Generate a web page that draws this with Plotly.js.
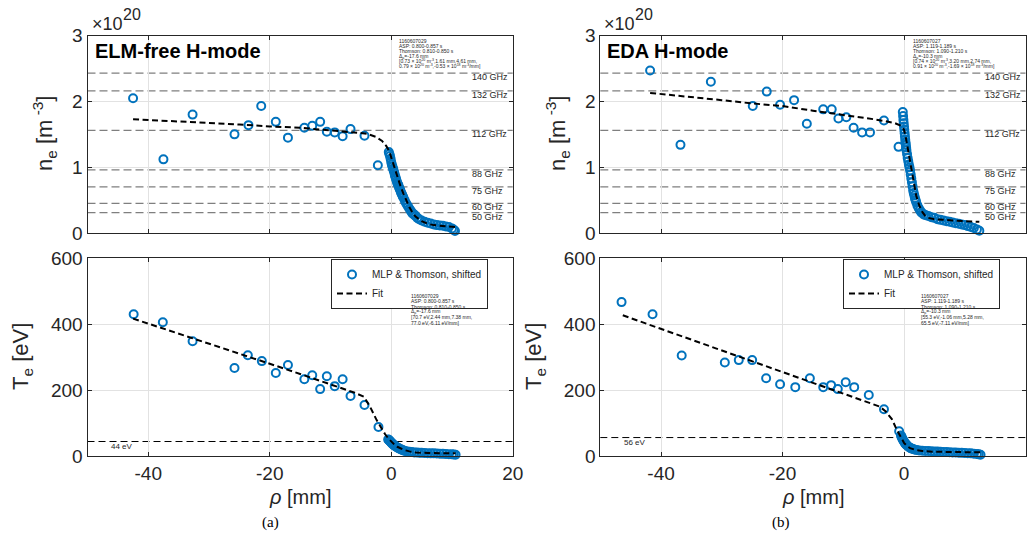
<!DOCTYPE html>
<html>
<head>
<meta charset="utf-8">
<script src="https://cdn.plot.ly/plotly-3.0.1.min.js"></script>
<style>
html,body{margin:0;padding:0;background:#fff;}
#chart{width:1036px;height:544px;}
</style>
</head>
<body>
<div id="chart"></div>
<script>
// ---------------- DATA ----------------
// (a) ELM-free H-mode, density (units of 1e20 m^-3)
const aNeThomsonX = [-42.5,-37.5,-32.7,-25.8,-23.5,-21.4,-19.0,-17.0,-14.3,-13.0,-11.7,-10.6,-9.3,-8.0,-6.7,-4.4,-2.2];
const aNeThomsonY = [2.05,1.12,1.80,1.50,1.64,1.93,1.69,1.45,1.60,1.63,1.69,1.54,1.53,1.47,1.58,1.48,1.03];
const aNeMlpX = [-0.4,-0.3,-0.2,-0.1,0,0.1,0.2,0.3,0.4,0.5,0.6,0.7,0.8,0.9,1.0,1.1,1.2,1.3,1.4,1.5,1.6,1.7,1.8,1.9,2.0,2.2,2.4,2.6,2.8,3.0,3.2,3.4,3.6,3.8,4.0,4.3,4.6,5.0,5.5,6.0,6.5,7.0,7.5,8.0,8.5,9.0,9.5,10.0,10.3,10.5];
const aNeMlpY = [1.23,1.20,1.17,1.13,1.08,1.04,1.01,0.98,0.95,0.92,0.88,0.85,0.82,0.79,0.76,0.74,0.72,0.69,0.67,0.65,0.62,0.60,0.58,0.56,0.54,0.50,0.46,0.43,0.40,0.37,0.34,0.31,0.29,0.28,0.26,0.23,0.21,0.19,0.17,0.155,0.145,0.13,0.12,0.115,0.11,0.10,0.09,0.07,0.05,0.03];
const aNeFitX = [-42.5,-35,-30,-25,-20,-15,-10,-6,-4,-2.5,-1.5,-0.8,-0.3,0,0.5,1,1.5,2,2.5,3,3.5,4,5,6,7,8,9,10.5];
const aNeFitY = [1.73,1.70,1.67,1.65,1.62,1.60,1.56,1.53,1.51,1.46,1.40,1.32,1.24,1.15,1.00,0.85,0.72,0.60,0.49,0.39,0.31,0.25,0.18,0.14,0.12,0.11,0.10,0.09];

// (a) temperature (eV)
const aTeThomsonX = [-42.4,-37.6,-32.7,-25.8,-23.6,-21.3,-19.0,-17.0,-14.3,-13.0,-11.7,-10.6,-9.3,-8.0,-6.7,-4.4,-2.1];
const aTeThomsonY = [430,406,348,267,306,288,252,276,233,245,203,242,212,233,182,155,88];
const aTeMlpX = [-0.5,-0.4,-0.3,-0.2,-0.1,0,0.1,0.2,0.3,0.4,0.5,0.6,0.8,1.0,1.2,1.4,1.6,1.8,2.0,2.3,2.6,3.0,3.4,3.8,4.2,4.6,5.0,5.5,6.0,6.5,7.0,7.5,8.0,8.5,9.0,9.5,10.0,10.3,10.6];
const aTeMlpY = [50,49,47,45,43,41,39,37,35,34,32,31,28,26,24,22,20,19,17,15,14,13,12,11,10.5,10,9.5,9,8.5,8,8,7.5,7,6.5,6,5.5,5,4.5,4];
const aTeFitX = [-42.5,-35,-30,-25,-20,-15,-10,-6,-4.5,-3.5,-2.4,-1.5,-1,-0.5,0,0.5,1,1.5,2,3,4,6,8,10.6];
const aTeFitY = [417,372,341,310,280,249,218,192,180,150,109,80,66,54,44,35,28,23,19,14,11,9,8.5,8];
const aTeLine = 44;

// (b) EDA H-mode, density
const bNeThomsonX = [-41.8,-36.8,-31.8,-24.9,-22.6,-20.4,-18.1,-16.0,-13.3,-11.9,-10.8,-9.5,-8.3,-6.9,-5.6,-3.3,-0.9];
const bNeThomsonY = [2.47,1.34,2.30,1.93,2.15,1.95,2.02,1.66,1.88,1.88,1.74,1.76,1.60,1.53,1.53,1.71,1.31];
const bNeMlpX = [-0.2,-0.15,-0.1,-0.05,0,0.05,0.1,0.15,0.2,0.25,0.3,0.35,0.4,0.5,0.6,0.7,0.8,0.9,1.0,1.1,1.2,1.3,1.4,1.5,1.6,1.7,1.8,1.9,2.0,2.2,2.4,2.6,2.8,3.0,3.3,3.6,4.0,4.5,5.0,5.5,6.0,6.5,7.0,7.5,8.0,8.5,9.0,9.5,10.0,10.5,11.0,11.5,12.0,12.4];
const bNeMlpY = [1.84,1.78,1.72,1.67,1.62,1.57,1.52,1.47,1.42,1.38,1.34,1.30,1.26,1.20,1.14,1.09,1.04,1.00,0.95,0.89,0.83,0.77,0.71,0.65,0.61,0.57,0.53,0.50,0.47,0.42,0.38,0.35,0.32,0.30,0.28,0.27,0.26,0.24,0.23,0.21,0.20,0.19,0.18,0.17,0.16,0.15,0.14,0.13,0.12,0.105,0.09,0.075,0.055,0.035];
const bNeFitX = [-41.8,-35,-30,-25,-20,-15,-10,-5,-3,-1.5,-0.5,0,0.3,0.6,1.0,1.5,2.0,2.5,3.0,3.5,4.0,5,6,8,10,12.4];
const bNeFitY = [2.13,2.07,2.02,1.97,1.93,1.86,1.80,1.73,1.70,1.67,1.63,1.57,1.45,1.30,1.08,0.80,0.57,0.42,0.32,0.26,0.23,0.21,0.20,0.19,0.18,0.17];

// (b) temperature
const bTeThomsonX = [-46.5,-41.4,-36.6,-29.5,-27.2,-25.0,-22.7,-20.4,-17.9,-15.5,-13.3,-12.0,-10.9,-9.6,-8.2,-5.8,-3.3,-0.8];
const bTeThomsonY = [467,430,305,284,291,291,236,218,209,236,209,215,203,224,209,185,142,75];
const bTeMlpX = [-0.5,-0.4,-0.3,-0.2,-0.1,0,0.1,0.2,0.3,0.4,0.5,0.7,0.9,1.1,1.3,1.5,1.8,2.1,2.5,3.0,3.5,4.0,4.5,5.0,5.5,6.0,6.5,7.0,7.5,8.0,8.5,9.0,9.5,10.0,10.5,11.0,11.5,12.0,12.3,12.6];
const bTeMlpY = [62,58,54,50,47,44,41,38,36,34,32,29,26,24,22,21,19,18,17,16,15.5,15,14.5,14,13.5,13,12.5,12,11.5,11,10.5,10,9.5,9,8.5,8,7,6,5,4];
const bTeFitX = [-46.3,-40,-35,-30,-25,-20,-15,-10,-6,-4,-3,-2,-1.2,-0.5,0,0.5,1,2,3,5,8,12.6];
const bTeFitY = [427,386,353,320,288,255,222,189,163,150,135,112,80,55,40,30,24,18,15,13,12,11];
const bTeLine = 56;

// O-mode cutoff densities (1e20 m^-3) and labels
const cutoffDensity = [2.43,2.16,1.56,0.96,0.70,0.45,0.31];
const cutoffLabels = ['140 GHz','132 GHz','112 GHz','88 GHz','75 GHz','60 GHz','50 GHz'];

// tick labels
const xTickVals = [-40,-20,0,20];
const xTickText = ['-40','-20','0','20'];
const neTickVals = [0,1,2,3];
const teTickVals = [0,200,400,600];

const panelTitles = ['ELM-free H-mode','EDA H-mode'];
const subLabels = ['(a)','(b)'];
const infoA_ne = ['1160607029','ASP: 0.800-0.857 s','Thomson: 0.810-0.850 s','Δ<sub>ρ</sub>=-17.6 mm','[0.73 × 10<sup>20</sup> m<sup>-3</sup>,1.61 mm,4.61 mm,','0.79 × 10<sup>20</sup> m<sup>-3</sup>,-0.53 × 10<sup>18</sup> m<sup>-3</sup>/mm]'];
const infoA_te = ['1160607029','ASP: 0.800-0.857 s','Thomson: 0.810-0.850 s','Δ<sub>ρ</sub>=-17.6 mm','[70.7 eV,2.44 mm,7.38 mm,','77.0 eV,-6.11 eV/mm]'];
const infoB_ne = ['1160607027','ASP: 1.119-1.189 s','Thomson: 1.090-1.210 s','Δ<sub>ρ</sub>=-10.3 mm','[0.74 × 10<sup>20</sup> m<sup>-3</sup>,3.20 mm,2.74 mm,','0.91 × 10<sup>20</sup> m<sup>-3</sup>,-1.69 × 10<sup>18</sup> m<sup>-3</sup>/mm]'];
const infoB_te = ['1160607027','ASP: 1.119-1.189 s','Thomson: 1.090-1.210 s','Δ<sub>ρ</sub>=-10.3 mm','[55.3 eV,-1.06 mm,5.28 mm,','65.5 eV,-7.11 eV/mm]'];

// ---------------- STYLE / LAYOUT ----------------
const W = 1036, H = 544;
const PX = x => x / W;
const PY = y => 1 - y / H;
const FONT = 'Liberation Sans';
const TXT = '#262626';
const BLUE = '#0072BD';

const xL = [PX(87.5), PX(512.7)];
const xR = [PX(600.3), PX(1025.5)];
const yT = [PY(233), PY(35.7)];
const yB = [PY(456), PY(258.3)];

function axisBase() {
  return {
    showline: true, linecolor: TXT, linewidth: 1, mirror: 'ticks',
    ticks: 'inside', ticklen: 4, tickcolor: TXT, tickwidth: 1,
    showgrid: true, gridcolor: '#e2e2e2', gridwidth: 1, zeroline: false,
    tickfont: {family: FONT, size: 19, color: TXT}, fixedrange: true
  };
}
function xAxis(domain, anchor, labels) {
  return Object.assign(axisBase(), {
    domain: domain, anchor: anchor, range: [-50, 20],
    tickmode: 'array', tickvals: xTickVals, ticktext: xTickText,
    showticklabels: labels
  });
}
function yAxis(domain, anchor, range, vals) {
  return Object.assign(axisBase(), {
    domain: domain, anchor: anchor, range: range,
    tickmode: 'array', tickvals: vals
  });
}

const markerStyle = {symbol: 'circle-open', size: 8, color: BLUE, line: {width: 2, color: BLUE}};
const fitLine = {color: '#000', width: 2, dash: '6px,3.5px'};

function panelTraces(tx, ty, mx, my, fx, fy, xa, ya, legendName, show) {
  return [
    {x: tx.concat(mx), y: ty.concat(my), xaxis: xa, yaxis: ya, type: 'scatter', mode: 'markers',
     marker: markerStyle, name: 'MLP & Thomson, shifted', showlegend: show, legend: legendName,
     cliponaxis: false, hoverinfo: 'skip'},
    {x: fx, y: fy, xaxis: xa, yaxis: ya, type: 'scatter', mode: 'lines', line: fitLine,
     name: 'Fit', showlegend: show, legend: legendName, hoverinfo: 'skip'}
  ];
}

const data = [].concat(
  panelTraces(aNeThomsonX, aNeThomsonY, aNeMlpX, aNeMlpY, aNeFitX, aNeFitY, 'x', 'y', 'legend', false),
  panelTraces(aTeThomsonX, aTeThomsonY, aTeMlpX, aTeMlpY, aTeFitX, aTeFitY, 'x2', 'y2', 'legend', true),
  panelTraces(bNeThomsonX, bNeThomsonY, bNeMlpX, bNeMlpY, bNeFitX, bNeFitY, 'x3', 'y3', 'legend2', false),
  panelTraces(bTeThomsonX, bTeThomsonY, bTeMlpX, bTeMlpY, bTeFitX, bTeFitY, 'x4', 'y4', 'legend2', true)
);

const shapes = [];
const annotations = [];

// cutoff lines and labels
[['x', 'y'], ['x3', 'y3']].forEach(([xa, ya]) => {
  cutoffDensity.forEach((v, i) => {
    shapes.push({type: 'line', xref: xa + ' domain', yref: ya, x0: 0, x1: 1, y0: v, y1: v,
      layer: 'below', line: {color: '#7f7f7f', width: 1.2, dash: '8px,4px'}});
    annotations.push({xref: xa, yref: ya, x: 13, y: v, xanchor: 'left', yanchor: 'middle', yshift: -4,
      text: cutoffLabels[i], showarrow: false, font: {family: FONT, size: 9, color: TXT}});
  });
});
// Te reference lines
[['x2', 'y2', aTeLine], ['x4', 'y4', bTeLine]].forEach(([xa, ya, v]) => {
  shapes.push({type: 'line', xref: xa + ' domain', yref: ya, x0: 0, x1: 1, y0: v, y1: v,
    layer: 'below', line: {color: '#000', width: 1, dash: '7px,4px'}});
  annotations.push({xref: xa, yref: ya, x: -46.5, y: v, xanchor: 'left', yanchor: 'middle', yshift: -5,
    text: v + ' eV', showarrow: false, font: {family: FONT, size: 8, color: TXT}});
});

// panel titles
annotations.push({xref: 'paper', yref: 'paper', x: PX(93), y: PY(51), xanchor: 'left', yanchor: 'middle',
  text: '<b>' + panelTitles[0] + '</b>', showarrow: false, font: {family: FONT, size: 20, color: '#000'}});
annotations.push({xref: 'paper', yref: 'paper', x: PX(605), y: PY(51), xanchor: 'left', yanchor: 'middle',
  text: '<b>' + panelTitles[1] + '</b>', showarrow: false, font: {family: FONT, size: 20, color: '#000'}});

// exponent labels
[[90, 121], [602, 633]].forEach(([a, b]) => {
  annotations.push({xref: 'paper', yref: 'paper', x: PX(a), y: PY(24), xanchor: 'left', yanchor: 'middle',
    text: '×10', showarrow: false, font: {family: FONT, size: 18, color: TXT}});
  annotations.push({xref: 'paper', yref: 'paper', x: PX(b), y: PY(14), xanchor: 'left', yanchor: 'middle',
    text: '20', showarrow: false, font: {family: FONT, size: 16, color: TXT}});
});

// y-axis titles
[[44, 134, 'n<sub>e</sub> [m<sup> -3</sup>]'], [22, 357, 'T<sub>e</sub> [eV]'],
 [557, 134, 'n<sub>e</sub> [m<sup> -3</sup>]'], [535, 357, 'T<sub>e</sub> [eV]']].forEach(([x, y, t]) => {
  annotations.push({xref: 'paper', yref: 'paper', x: PX(x), y: PY(y), xanchor: 'center', yanchor: 'middle',
    text: t, textangle: -90, showarrow: false, font: {family: FONT, size: 22, color: TXT}});
});
// x-axis titles
[300, 813].forEach(x => {
  annotations.push({xref: 'paper', yref: 'paper', x: PX(x), y: PY(497), xanchor: 'center', yanchor: 'middle',
    text: '<i>ρ</i> [mm]', showarrow: false, font: {family: FONT, size: 20, color: TXT}});
});
// sub-figure labels
[[270, subLabels[0]], [781, subLabels[1]]].forEach(([x, t]) => {
  annotations.push({xref: 'paper', yref: 'paper', x: PX(x), y: PY(522), xanchor: 'center', yanchor: 'middle',
    text: t, showarrow: false, font: {family: 'Liberation Serif', size: 15, color: '#000'}});
});
// info text blocks
[[infoA_ne, 397, 40.8, 5.1], [infoA_te, 409, 295.7, 5.4], [infoB_ne, 911, 40.8, 5.1], [infoB_te, 919, 295.7, 5.4]]
.forEach(([lines, x0, y0, dy]) => {
  lines.forEach((t, i) => {
    annotations.push({xref: 'paper', yref: 'paper', x: PX(x0), y: PY(y0 + i * dy), xanchor: 'left', yanchor: 'middle',
      text: t, showarrow: false, font: {family: FONT, size: 5, color: TXT}});
  });
});

function legendStyle(xRightPx) {
  return {x: PX(xRightPx), y: PY(259), xanchor: 'right', yanchor: 'top', bgcolor: '#fff',
    bordercolor: TXT, borderwidth: 1, font: {family: FONT, size: 10, color: TXT},
    tracegroupgap: 0, itemwidth: 30};
}

const layout = {
  width: W, height: H, margin: {l: 0, r: 0, t: 0, b: 0},
  paper_bgcolor: '#fff', plot_bgcolor: '#fff',
  font: {family: FONT, color: TXT},
  xaxis: xAxis(xL, 'y', false),
  yaxis: yAxis(yT, 'x', [0, 3], neTickVals),
  xaxis2: xAxis(xL, 'y2', true),
  yaxis2: yAxis(yB, 'x2', [0, 600], teTickVals),
  xaxis3: xAxis(xR, 'y3', false),
  yaxis3: yAxis(yT, 'x3', [0, 3], neTickVals),
  xaxis4: xAxis(xR, 'y4', true),
  yaxis4: yAxis(yB, 'x4', [0, 600], teTickVals),
  legend: legendStyle(488),
  legend2: legendStyle(1000),
  shapes: shapes,
  annotations: annotations,
  showlegend: true
};

Plotly.newPlot('chart', data, layout, {staticPlot: true, displayModeBar: false});
</script>
</body>
</html>
